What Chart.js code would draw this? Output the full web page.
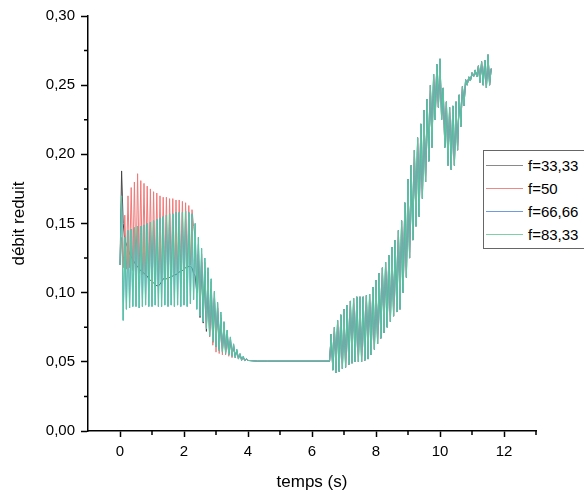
<!DOCTYPE html>
<html>
<head>
<meta charset="utf-8">
<script src="https://cdn.jsdelivr.net/npm/chart.js@4.4.1/dist/chart.umd.min.js"></script>
<style>
  body { margin: 0; background: #fff; }
  #wrap { position: relative; width: 584px; height: 495px; overflow: hidden; }
  #legend {
    position: absolute; left: 483px; top: 150px; width: 120px; height: 99px;
    box-sizing: border-box; border: 1px solid #666; background: #fff;
    padding-top: 3px; font: 15px "Liberation Sans", Arial, sans-serif; color: #000;
  }
  .row { height: 23px; display: flex; align-items: center; white-space: nowrap; }
  .swatch { width: 37px; height: 0; border-top: 1px solid; margin-left: 2px; margin-right: 5px; }
</style>
</head>
<body>
<div id="wrap">
  <canvas id="chart" width="584" height="495"></canvas>
  <div id="legend"></div>
</div>
<script>
// sample times (s), split by section of the run
const tA = [0,0.05,0.1,0.15,0.2,0.25,0.3,0.35,0.4,0.45,0.5,0.55,0.6,0.65,0.7,0.75,0.8,0.85,0.9,0.95,
  1,1.05,1.1,1.15,1.2,1.25,1.3,1.35,1.4,1.45,1.5,1.55,1.6,1.65,1.7,1.75,1.8,1.85,1.9,1.95,
  2,2.05,2.1,2.15,2.2,2.25,2.3];
const tB = [2.35,2.4,2.45,2.5,2.55,2.6,2.65,2.7,2.75,2.8,2.85,2.9,2.95,3,3.05,3.1,3.15,3.2,3.25,3.3,
  3.35,3.4,3.45,3.5,3.55,3.6,3.65,3.7,3.75,3.8,3.85,3.9,3.95,4];
const tFlat = [4.3,4.6,5,5.5,6,6.55];
const tC = [6.6,6.65,6.7,6.75,6.8,6.85,6.9,6.95,7,7.05,7.1,7.15,7.2,7.25,7.3,7.35,7.4,7.45,7.5,7.55,
  7.6,7.65,7.7,7.75,7.8,7.85,7.9,7.95,8,8.05,8.1,8.15,8.2,8.25,8.3,8.35,8.4,8.45,8.5,8.55,
  8.6,8.65,8.7,8.75,8.8,8.85,8.9,8.95,9,9.05,9.1,9.15,9.2,9.25,9.3,9.35,9.4,9.45,9.5,9.55,
  9.6,9.65,9.7,9.75,9.8,9.85,9.9,9.95,10,10.05,10.1,10.15,10.2,10.25,10.3,10.35,10.4,10.45,10.5,10.55,
  10.6,10.65,10.7,10.75,10.8,10.85,10.9,10.95,11,11.05,11.1,11.15,11.2,11.25,11.3,11.35,11.4,11.45,11.5,11.55,
  11.6];

// débit reduit, first section (0 - 2.3 s)
const f3333A = [0.120,0.188,0.150,0.138,0.135,0.132,0.128,0.126,0.124,0.122,0.120,0.119,0.117,0.116,0.115,0.114,0.113,0.112,0.110,0.109,
  0.108,0.107,0.106,0.105,0.105,0.106,0.108,0.110,0.110,0.110,0.111,0.111,0.112,0.112,0.113,0.113,0.114,0.115,0.115,0.116,
  0.117,0.118,0.118,0.119,0.119,0.118,0.114];
const f50A = [0.120,0.140,0.118,0.156,0.117,0.170,0.118,0.176,0.116,0.180,0.115,0.186,0.114,0.181,0.113,0.179,0.112,0.177,0.111,0.175,
  0.110,0.173,0.109,0.172,0.109,0.170,0.110,0.169,0.111,0.169,0.112,0.168,0.113,0.168,0.114,0.167,0.115,0.167,0.116,0.166,
  0.117,0.165,0.118,0.163,0.120,0.160,0.148];
const f8333A = [0.120,0.170,0.080,0.140,0.088,0.145,0.089,0.146,0.090,0.147,0.090,0.148,0.089,0.148,0.090,0.149,0.091,0.150,0.090,0.151,
  0.090,0.152,0.091,0.153,0.090,0.154,0.090,0.155,0.091,0.156,0.090,0.157,0.091,0.157,0.090,0.158,0.091,0.158,0.090,0.158,
  0.091,0.159,0.090,0.158,0.092,0.157,0.095];

// second section (2.35 - 4 s), decaying
const f3333B = [0.112,0.100,0.128,0.082,0.122,0.078,0.116,0.072,0.110,0.068,0.103,0.064,0.096,0.061,0.089,0.059,0.082,0.058,0.076,0.057,
  0.070,0.056,0.065,0.055,0.061,0.054,0.058,0.053,0.055,0.052,0.053,0.051,0.052,0.051];
const f50B = [0.140,0.100,0.135,0.090,0.128,0.082,0.122,0.075,0.115,0.068,0.108,0.062,0.100,0.057,0.092,0.056,0.084,0.055,0.078,0.055,
  0.072,0.054,0.067,0.053,0.062,0.053,0.058,0.052,0.055,0.051,0.053,0.051,0.052,0.051];
const f8333B = [0.150,0.088,0.140,0.083,0.132,0.079,0.125,0.074,0.118,0.069,0.110,0.065,0.101,0.061,0.093,0.058,0.086,0.057,0.079,0.056,
  0.073,0.055,0.068,0.054,0.063,0.053,0.059,0.052,0.056,0.051,0.054,0.051,0.052,0.051];

// plateau and last section, the same for every f
const flatVals = [0.0505,0.0505,0.0505,0.0505,0.0505,0.0505];
const lateVals = [0.070,0.044,0.075,0.042,0.080,0.043,0.084,0.045,0.088,0.046,
  0.091,0.048,0.094,0.049,0.096,0.050,0.097,0.050,0.097,0.050,
  0.097,0.051,0.098,0.052,0.099,0.055,0.104,0.059,0.109,0.063,
  0.114,0.067,0.118,0.071,0.122,0.075,0.127,0.079,0.133,0.083,
  0.138,0.086,0.145,0.088,0.152,0.100,0.165,0.111,0.182,0.125,
  0.192,0.138,0.203,0.148,0.212,0.155,0.222,0.168,0.232,0.180,
  0.240,0.195,0.250,0.205,0.258,0.225,0.265,0.234,0.269,0.225,
  0.248,0.205,0.238,0.192,0.234,0.189,0.235,0.192,0.238,0.203,
  0.243,0.220,0.249,0.235,0.254,0.250,0.256,0.253,0.259,0.256,
  0.261,0.256,0.264,0.252,0.267,0.250,0.268,0.248,0.272,0.250,
  0.262];

const xTicks = [0,2,4,6,8,10,12];
const xMinor = [1,3,5,7,9,11,13];
const yTicks = [0,0.05,0.1,0.15,0.2,0.25,0.3];
const yMinor = [0.025,0.075,0.125,0.175,0.225,0.275];

const labels = ['f=33,33', 'f=50', 'f=66,66', 'f=83,33'];
const colors = ['#454545', '#f07878', '#5b8ee0', '#55c99b'];
const legendColors = ['#8a8a8a', '#ec8a8a', '#6f9be0', '#7fcfa8'];

const pts = (ts, vs) => ts.map((t, i) => ({ x: t, y: vs[i] }));
const series = (a, b) => pts(tA, a).concat(pts(tB, b), pts(tFlat, flatVals), pts(tC, lateVals));

const data3333 = series(f3333A, f3333B);
const data50 = series(f50A, f50B);
const data6666 = series(f8333A, f8333B); // lies under the 83,33 curve
const data8333 = series(f8333A, f8333B);

// legend, drawn as html since it sits partly outside the canvas
const leg = document.getElementById('legend');
labels.forEach((l, i) => {
  leg.innerHTML += '<div class="row"><span class="swatch" style="border-color:' + legendColors[i] + '"></span>' + l + '</div>';
});

const font = { family: '"Liberation Sans", Arial, sans-serif', size: 15 };

// minor ticks, chart.js has none
const minorTicks = {
  id: 'minorTicks',
  afterDraw(chart) {
    const { ctx, chartArea, scales } = chart;
    ctx.save();
    ctx.strokeStyle = '#000';
    ctx.lineWidth = 1.5;
    ctx.beginPath();
    xMinor.forEach(v => {
      const px = scales.x.getPixelForValue(v);
      ctx.moveTo(px, chartArea.bottom);
      ctx.lineTo(px, chartArea.bottom + 4);
    });
    yMinor.forEach(v => {
      const py = scales.y.getPixelForValue(v);
      ctx.moveTo(chartArea.left, py);
      ctx.lineTo(chartArea.left - 4, py);
    });
    ctx.stroke();
    ctx.restore();
  }
};

new Chart(document.getElementById('chart'), {
  type: 'line',
  data: {
    // first dataset is drawn on top
    datasets: [
      { label: labels[3], data: data8333, borderColor: colors[3] },
      { label: labels[2], data: data6666, borderColor: colors[2] },
      { label: labels[1], data: data50, borderColor: colors[1] },
      { label: labels[0], data: data3333, borderColor: colors[0] }
    ]
  },
  options: {
    responsive: false,
    animation: false,
    elements: { point: { radius: 0 }, line: { borderWidth: 1, tension: 0 } },
    layout: { padding: { top: 16, right: 48, left: 0, bottom: 0 } },
    plugins: { legend: { display: false }, tooltip: { enabled: false } },
    scales: {
      x: {
        type: 'linear', min: -1, max: 13,
        afterBuildTicks: s => { s.ticks = xTicks.map(v => ({ value: v })); },
        afterFit: s => { s.height = 64; },
        grid: { drawOnChartArea: false, tickLength: 6, tickColor: '#000', tickWidth: 1.5 },
        border: { color: '#000', width: 1.5 },
        ticks: { color: '#000', font: font, padding: 6, maxRotation: 0, autoSkip: false },
        title: { display: true, text: 'temps (s)', color: '#000',
          font: { family: font.family, size: 17 }, padding: { top: 0, bottom: 2 } }
      },
      y: {
        min: 0, max: 0.3,
        afterBuildTicks: s => { s.ticks = yTicks.map(v => ({ value: v })); },
        afterFit: s => { s.width = 88; },
        grid: { drawOnChartArea: false, tickLength: 7, tickColor: '#000', tickWidth: 1.5 },
        border: { color: '#000', width: 1.5 },
        ticks: { color: '#000', font: font, padding: 6,
          callback: v => v.toFixed(2).replace('.', ',') },
        title: { display: true, text: 'débit reduit', color: '#000',
          font: { family: font.family, size: 17 }, padding: { top: 9, bottom: 0 } }
      }
    }
  },
  plugins: [minorTicks]
});
</script>
</body>
</html>
